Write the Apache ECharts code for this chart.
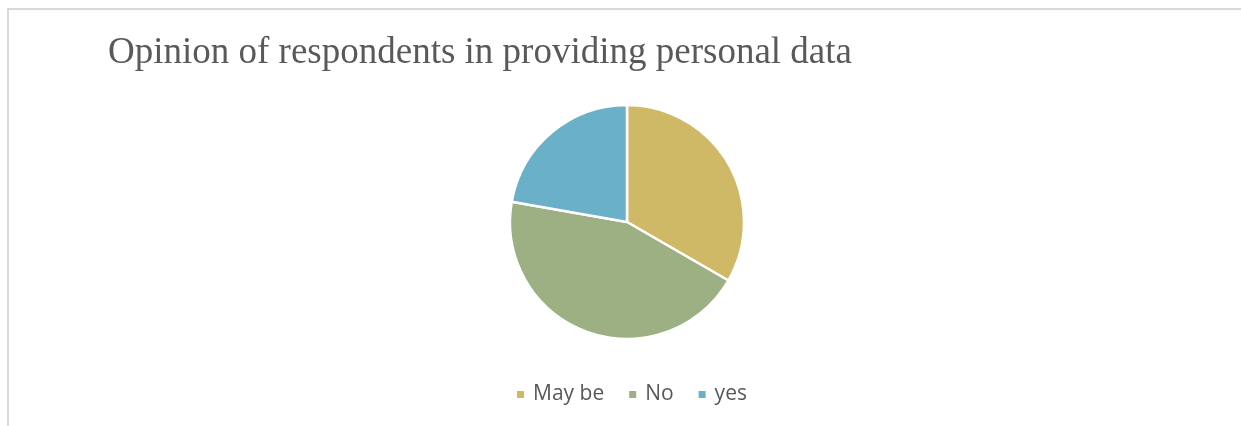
<!DOCTYPE html>
<html>
<head>
<meta charset="utf-8">
<script src="https://cdn.jsdelivr.net/npm/echarts@6/dist/echarts.min.js"></script>
<style>
html,body{margin:0;padding:0;background:#fff;}
#frame{position:absolute;left:7px;top:8px;width:1234px;height:418px;border-top:2px solid #d9d9d9;border-left:2px solid #d9d9d9;box-sizing:border-box;}
#chart{position:absolute;left:0;top:0;width:1241px;height:426px;}
</style>
</head>
<body>
<div id="frame"></div>
<div id="chart"></div>
<script>
const titleText = 'Opinion of respondents in providing personal data';
const categories = ['May be', 'No', 'yes'];
const values = [3, 4, 2];
const colors = ['#CFB966', '#9DB083', '#69B0C8'];

const chart = echarts.init(document.getElementById('chart'), null, {renderer: 'canvas'});
chart.setOption({
  animation: false,
  backgroundColor: 'transparent',
  title: {
    text: titleText,
    left: 103,
    top: 30,
    textStyle: {fontFamily: 'Liberation Serif', fontSize: 37, fontWeight: 'normal', color: '#595959'}
  },
  legend: {
    data: categories,
    left: 510,
    top: 379,
    icon: 'rect',
    itemWidth: 9,
    itemHeight: 9,
    itemGap: 23,
    textStyle: {fontFamily: 'Open Sans', fontSize: 21, color: '#595959', padding: [0, 0, 0, 3]}
  },
  series: [{
    type: 'pie',
    center: [627, 222],
    radius: 117,
    startAngle: 90,
    clockwise: true,
    label: {show: false},
    labelLine: {show: false},
    itemStyle: {borderColor: '#fff', borderWidth: 2.5},
    emphasis: {disabled: true},
    data: categories.map((c, i) => ({name: c, value: values[i], itemStyle: {color: colors[i]}}))
  }]
});
</script>
</body>
</html>
